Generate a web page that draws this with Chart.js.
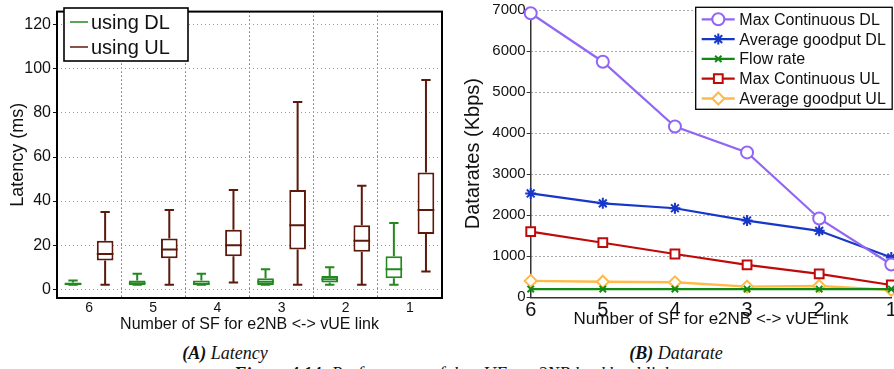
<!DOCTYPE html>
<html>
<head>
<meta charset="utf-8">
<script src="https://cdn.jsdelivr.net/npm/chart.js@4.4.1/dist/chart.umd.min.js"></script>
<style>
  body { margin: 0; width: 894px; height: 369px; overflow: hidden; background: #fff; position: relative; }
  #latency { position: absolute; left: 0; top: 0; }
  #datarate { position: absolute; left: 450px; top: 0; }
  .cap {
    position: absolute;
    font-family: "Liberation Serif", "Times New Roman", serif;
    font-style: italic;
    font-size: 18px;
    line-height: 20px;
    color: #111;
    white-space: nowrap;
    transform: translateX(-50%);
  }
</style>
</head>
<body>
<canvas id="latency" width="450" height="338"></canvas>
<canvas id="datarate" width="462" height="338"></canvas>
<div class="cap" style="left:225px; top:343px"><b>(A)</b> Latency</div>
<div class="cap" style="left:676px; top:343px"><b>(B)</b> Datarate</div>
<div class="cap" style="left:453px; top:364px"><b>Figure 4.14:</b> Performance of the vUE to e2NB backhaul link</div>

<script>
// ======================
// DATA : LATENCY (ms)
// ======================
const sfLabels = ["6", "5", "4", "3", "2", "1"];

// box stats, using DL
const dlMin = [2, 2, 2, 2, 2, 2];
const dlQ1  = [1.8, 1.8, 1.8, 1.9, 3, 5];
const dlMed = [2.4, 2.7, 2.5, 3.4, 4.5, 9];
const dlQ3  = [3, 4, 4, 5, 6, 15];
const dlMax = [4, 7, 7, 9, 10, 30];

// box stats, using UL
const ulMin = [2, 2, 3, 2, 2, 8];
const ulQ1  = [13, 14, 15, 18, 17, 25];
const ulMed = [16, 18, 20, 29, 22, 36];
const ulQ3  = [22, 23, 27, 45, 29, 53];
const ulMax = [35, 36, 45, 85, 47, 95];

const latencyTicks = [0, 20, 40, 60, 80, 100, 120];

// ======================
// DATA : DATARATE (Kbps)
// ======================
const sfValues = [6, 5, 4, 3, 2, 1];
const maxContDL    = [6920, 5740, 4160, 3530, 1920, 800];
const avgGoodDL    = [2530, 2290, 2170, 1870, 1620, 970];
const flowRate     = [200, 200, 200, 200, 200, 200];
const maxContUL    = [1600, 1330, 1055, 790, 570, 300];
const avgGoodUL    = [400, 380, 365, 260, 275, 180];

const rateTicks = [0, 1000, 2000, 3000, 4000, 5000, 6000, 7000];

// ======================
// STYLE
// ======================
const SANS = '"Liberation Sans", Arial, Helvetica, sans-serif';
Chart.defaults.font.family = SANS;
Chart.defaults.color = "#111";

const dlColor = "#23881f";
const ulColor = "#5b1a0c";

// ======================
// PLUGIN : WHISKERS + MEDIAN
// ======================
const boxWhiskers = {
  id: "boxWhiskers",
  afterDatasetsDraw(chart) {
    let ctx = chart.ctx;
    let y = chart.scales.y;

    chart.data.datasets.forEach((ds, d) => {
      let meta = chart.getDatasetMeta(d);
      meta.data.forEach((bar, i) => {
        let x = bar.x;
        let half = bar.width / 2;
        let cap = bar.width * 0.28;
        let pMin = y.getPixelForValue(ds.stats.min[i]);
        let pMax = y.getPixelForValue(ds.stats.max[i]);
        let pMed = y.getPixelForValue(ds.stats.med[i]);
        let pLo = y.getPixelForValue(ds.data[i][0]);
        let pHi = y.getPixelForValue(ds.data[i][1]);

        ctx.save();
        ctx.strokeStyle = ds.borderColor;
        ctx.lineWidth = 2;
        ctx.beginPath();
        // upper whisker + cap
        ctx.moveTo(x, pHi); ctx.lineTo(x, pMax);
        ctx.moveTo(x - cap, pMax); ctx.lineTo(x + cap, pMax);
        // lower whisker + cap
        ctx.moveTo(x, pLo); ctx.lineTo(x, pMin);
        ctx.moveTo(x - cap, pMin); ctx.lineTo(x + cap, pMin);
        // median
        ctx.moveTo(x - half, pMed); ctx.lineTo(x + half, pMed);
        ctx.stroke();
        ctx.restore();
      });
    });
  }
};

// ======================
// PLUGIN : FRAME + LEGEND (latency)
// ======================
const latencyFrame = {
  id: "latencyFrame",
  afterDraw(chart) {
    let ctx = chart.ctx;
    let a = chart.chartArea;

    ctx.save();
    ctx.strokeStyle = "#000";
    ctx.lineWidth = 2;
    ctx.strokeRect(a.left, a.top, a.right - a.left, a.bottom - a.top);

    // legend box
    ctx.fillStyle = "#fff";
    ctx.fillRect(64, 8, 124, 53);
    ctx.lineWidth = 1.6;
    ctx.strokeRect(64, 8, 124, 53);

    ctx.font = "20px " + SANS;
    ctx.textBaseline = "middle";
    chart.data.datasets.forEach((ds, i) => {
      let rowY = 22 + i * 25;
      ctx.strokeStyle = ds.borderColor;
      ctx.lineWidth = 1.5;
      ctx.beginPath();
      ctx.moveTo(70, rowY);
      ctx.lineTo(88, rowY);
      ctx.stroke();
      ctx.fillStyle = "#111";
      ctx.fillText(ds.label, 91, rowY + 1);
    });
    ctx.restore();
  }
};

// ======================
// CHART A : LATENCY
// ======================
new Chart(document.getElementById("latency"), {
  type: "bar",
  data: {
    labels: sfLabels,
    datasets: [
      {
        label: "using DL",
        data: sfLabels.map((_, i) => [dlQ1[i], dlQ3[i]]),
        stats: { min: dlMin, med: dlMed, max: dlMax },
        backgroundColor: "#fff",
        borderColor: dlColor,
        borderWidth: 2,
        borderSkipped: false
      },
      {
        label: "using UL",
        data: sfLabels.map((_, i) => [ulQ1[i], ulQ3[i]]),
        stats: { min: ulMin, med: ulMed, max: ulMax },
        backgroundColor: "#fff",
        borderColor: ulColor,
        borderWidth: 2,
        borderSkipped: false
      }
    ]
  },
  options: {
    responsive: false,
    animation: false,
    layout: { padding: { top: 6, right: 8, left: 0, bottom: 0 } },
    datasets: { bar: { categoryPercentage: 1, barPercentage: 0.52 } },
    plugins: { legend: { display: false }, tooltip: { enabled: false } },
    scales: {
      x: {
        grid: { offset: true, color: "#222", drawTicks: false },
        border: { display: false, dash: [1, 3] },
        ticks: { font: { size: 14 }, padding: 2, color: "#111" },
        title: {
          display: true,
          text: "Number of SF for e2NB <-> vUE link",
          font: { size: 16 },
          padding: { top: 4, bottom: 4 }
        },
        afterFit: s => { s.height = 40; }
      },
      y: {
        min: -4,
        max: 126,
        afterBuildTicks: s => { s.ticks = latencyTicks.map(v => ({ value: v })); },
        ticks: { font: { size: 16 }, padding: 2, color: "#111" },
        grid: { color: "#9a9a9a", tickLength: 4, tickColor: "#111", tickWidth: 1 },
        border: { display: false, dash: [1, 3] },
        title: {
          display: true,
          text: "Latency (ms)",
          font: { size: 18 },
          padding: { top: 7, bottom: 0 }
        },
        afterFit: s => { s.width = 57; }
      }
    }
  },
  plugins: [boxWhiskers, latencyFrame]
});

// ======================
// PLUGIN : LEGEND (datarate)
// ======================
const rateLegend = {
  id: "rateLegend",
  afterDraw(chart) {
    let ctx = chart.ctx;
    let boxL = 245.7, boxT = 7.3, rowH = 19.8;

    ctx.save();
    ctx.font = "16px " + SANS;
    let maxW = 0;
    chart.data.datasets.forEach(ds => { maxW = Math.max(maxW, ctx.measureText(ds.label).width); });
    let boxW = 44 + maxW + 6;
    let boxH = rowH * chart.data.datasets.length + 3;

    ctx.fillStyle = "#fff";
    ctx.fillRect(boxL, boxT, boxW, boxH);
    ctx.strokeStyle = "#000";
    ctx.lineWidth = 1.3;
    ctx.strokeRect(boxL, boxT, boxW, boxH);

    ctx.textBaseline = "middle";
    chart.data.datasets.forEach((ds, i) => {
      let rowY = boxT + 12 + i * rowH;
      ctx.strokeStyle = ds.borderColor;
      ctx.lineWidth = ds.borderWidth;
      ctx.beginPath();
      ctx.moveTo(boxL + 6, rowY);
      ctx.lineTo(boxL + 39, rowY);
      ctx.stroke();

      ctx.fillStyle = ds.pointBackgroundColor;
      ctx.lineWidth = ds.pointBorderWidth;
      Chart.helpers.drawPoint(ctx, {
        pointStyle: ds.pointStyle,
        radius: ds.pointRadius,
        borderWidth: ds.pointBorderWidth,
        rotation: 0
      }, boxL + 22.6, rowY);

      ctx.fillStyle = "#111";
      ctx.fillText(ds.label, boxL + 43.6, rowY + 1);
    });
    ctx.restore();
  }
};

function line(values) {
  return sfValues.map((x, i) => ({ x: x, y: values[i] }));
}

// ======================
// CHART B : DATARATE
// ======================
new Chart(document.getElementById("datarate"), {
  type: "line",
  data: {
    datasets: [
      {
        label: "Max Continuous DL",
        data: line(maxContDL),
        borderColor: "#9166f5",
        pointBorderColor: "#9166f5",
        pointBackgroundColor: "#fff",
        pointStyle: "circle",
        pointRadius: 6,
        pointBorderWidth: 2,
        borderWidth: 2.2
      },
      {
        label: "Average goodput DL",
        data: line(avgGoodDL),
        borderColor: "#1737c9",
        pointBorderColor: "#1737c9",
        pointBackgroundColor: "#1737c9",
        pointStyle: "star",
        pointRadius: 5.5,
        pointBorderWidth: 2,
        borderWidth: 2.2
      },
      {
        label: "Flow rate",
        data: line(flowRate),
        borderColor: "#108a10",
        pointBorderColor: "#108a10",
        pointBackgroundColor: "#108a10",
        pointStyle: "crossRot",
        pointRadius: 4.5,
        pointBorderWidth: 2,
        borderWidth: 2.4
      },
      {
        label: "Max Continuous UL",
        data: line(maxContUL),
        borderColor: "#bf0a0a",
        pointBorderColor: "#bf0a0a",
        pointBackgroundColor: "#fff",
        pointStyle: "rect",
        pointRadius: 6.2,
        pointBorderWidth: 2,
        borderWidth: 2.2
      },
      {
        label: "Average goodput UL",
        data: line(avgGoodUL),
        borderColor: "#ffb946",
        pointBorderColor: "#ffb946",
        pointBackgroundColor: "#fff",
        pointStyle: "rectRot",
        pointRadius: 6,
        pointBorderWidth: 2,
        borderWidth: 2.4
      }
    ]
  },
  options: {
    responsive: false,
    animation: false,
    clip: false,
    layout: { padding: { top: 10, right: 20.7, left: 0, bottom: 0 } },
    elements: { line: { tension: 0 } },
    plugins: { legend: { display: false }, tooltip: { enabled: false } },
    scales: {
      x: {
        type: "linear",
        min: 1,
        max: 6,
        reverse: true,
        afterBuildTicks: s => { s.ticks = sfValues.map(v => ({ value: v })); },
        ticks: { font: { size: 20 }, padding: 1, color: "#111" },
        grid: { display: false, drawTicks: false },
        border: { color: "#333", width: 1.5 },
        title: {
          display: true,
          text: "Number of SF for e2NB <-> vUE link",
          font: { size: 17 },
          padding: { top: 8, bottom: 8 }
        },
        afterFit: s => { s.height = 40.7; }
      },
      y: {
        min: 0,
        max: 7000,
        afterBuildTicks: s => { s.ticks = rateTicks.map(v => ({ value: v })); },
        ticks: { font: { size: 15 }, padding: 1, color: "#111", callback: v => String(v) },
        grid: { color: "#555", tickLength: 4, tickColor: "#333" },
        border: { color: "#333", width: 1.5, dash: [1, 3] },
        title: {
          display: true,
          text: "Datarates (Kbps)",
          font: { size: 20 },
          padding: { top: 11, bottom: 0 }
        },
        afterFit: s => { s.width = 80.7; }
      }
    }
  },
  plugins: [rateLegend]
});
</script>
</body>
</html>
